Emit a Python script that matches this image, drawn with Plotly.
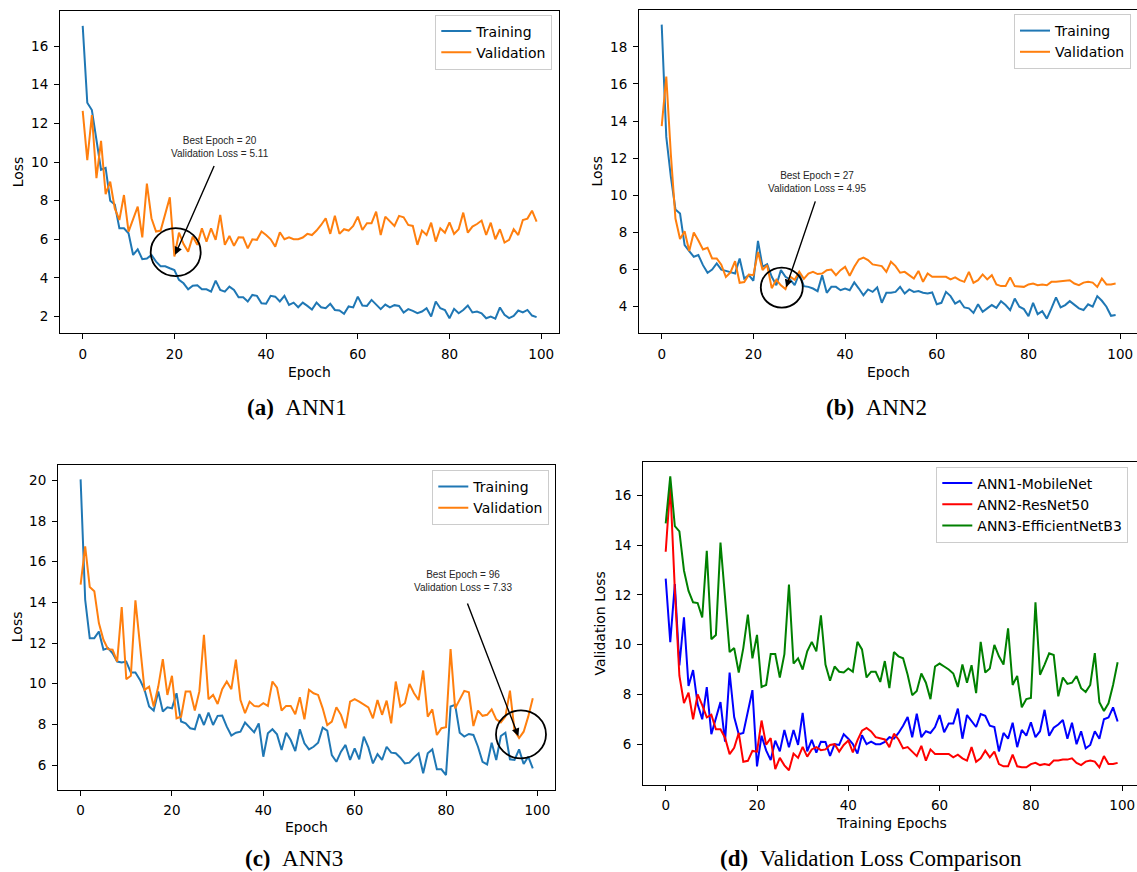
import plotly.graph_objects as go

# ---------------- data ----------------
epochs = list(range(100))

ann1_train = [17.05, 13.07, 12.69, 11.2, 9.6, 9.7, 8.0, 7.8, 6.57, 6.57,
              6.31, 5.19, 5.48, 4.97, 5.0, 5.19, 4.84, 4.6, 4.6, 4.5,
              4.41, 3.9, 3.72, 3.41, 3.59, 3.62, 3.41, 3.41, 3.29, 3.86,
              3.38, 3.29, 3.55, 3.38, 3.0, 3.0, 2.78, 3.12, 3.07, 2.69,
              2.66, 3.07, 3.03, 2.78, 3.07, 2.6, 2.72, 2.48, 2.72, 2.55,
              2.36, 2.72, 2.48, 2.43, 2.66, 2.34, 2.31, 2.14, 2.52, 2.47,
              3.03, 2.57, 2.55, 2.86, 2.6, 2.38, 2.62, 2.47, 2.59, 2.55,
              2.21, 2.38, 2.29, 2.17, 2.26, 2.43, 2.0, 2.78, 2.43, 2.34,
              1.91, 2.4, 2.17, 2.34, 2.57, 2.21, 2.26, 2.17, 1.91, 2.0,
              1.89, 2.47, 2.09, 1.92, 2.03, 2.31, 2.21, 2.34, 2.05, 1.97]

ann1_val = [12.65, 10.1, 12.43, 9.16, 11.1, 8.34, 8.98, 7.6, 7.0, 8.29,
            6.4, 7.0, 7.69, 6.1, 8.88, 7.09, 6.4, 6.45, 7.34, 8.17,
            5.11, 6.34, 5.75, 5.36, 6.14, 5.71, 6.57, 5.88, 6.57, 5.97,
            7.26, 5.71, 6.17, 5.66, 6.1, 6.09, 5.53, 6.0, 5.97, 6.4,
            6.22, 6.0, 5.62, 6.36, 6.0, 6.1, 6.0, 6.0, 6.09, 6.28,
            6.22, 6.45, 6.74, 7.09, 6.28, 7.22, 6.28, 6.52, 6.45, 6.69,
            7.17, 6.48, 6.83, 6.83, 7.43, 6.22, 7.17, 6.91, 6.69, 7.21,
            7.14, 6.74, 6.69, 5.71, 6.45, 6.22, 6.86, 5.88, 6.57, 6.34,
            6.88, 6.28, 6.52, 7.38, 6.34, 6.66, 6.79, 6.97, 6.22, 6.86,
            6.0, 6.52, 5.83, 5.97, 6.52, 6.22, 7.0, 7.07, 7.48, 6.91]

ann2_train = [19.2, 13.15, 11.0, 9.24, 9.02, 7.32, 7.0, 6.69, 6.78, 6.24,
              5.83, 6.0, 6.33, 6.0, 5.93, 5.88, 5.79, 6.6, 5.52, 5.7,
              5.4, 7.55, 6.15, 6.29, 5.61, 5.16, 5.97, 5.61, 5.47, 5.16,
              5.79, 5.11, 5.07, 4.98, 4.84, 5.7, 4.75, 5.07, 5.07, 4.89,
              4.98, 4.89, 5.31, 4.98, 4.62, 4.93, 4.8, 5.04, 4.21, 4.75,
              4.75, 4.8, 5.07, 4.71, 4.93, 4.8, 4.84, 4.75, 4.71, 4.77,
              4.13, 4.21, 4.8, 4.57, 4.17, 4.32, 3.96, 3.91, 3.67, 4.13,
              3.73, 3.91, 4.09, 3.94, 4.3, 4.09, 3.82, 4.44, 4.0, 3.87,
              3.49, 4.21, 3.6, 3.76, 3.36, 3.91, 4.5, 3.96, 4.09, 4.3,
              4.09, 3.91, 3.82, 4.13, 4.0, 4.57, 4.32, 4.0, 3.51, 3.55]

ann2_val = [13.73, 16.4, 12.2, 8.75, 7.65, 8.07, 7.0, 8.0, 7.57, 7.08,
            7.18, 6.6, 6.6, 6.26, 5.6, 5.85, 6.45, 5.29, 5.33, 5.73,
            5.7, 6.95, 5.98, 6.24, 5.0, 5.45, 5.15, 4.95, 5.62, 5.45,
            5.89, 5.5, 5.79, 5.88, 5.76, 5.79, 5.97, 6.0, 5.7, 5.97,
            6.15, 5.67, 6.15, 6.54, 6.65, 6.51, 6.28, 6.24, 6.19, 5.88,
            6.42, 6.19, 5.83, 5.88, 5.7, 5.52, 5.93, 5.34, 5.79, 5.61,
            5.61, 5.61, 5.61, 5.47, 5.58, 5.43, 5.34, 5.88, 5.29, 5.43,
            5.74, 5.47, 5.7, 5.2, 5.11, 5.11, 5.58, 5.11, 5.07, 5.07,
            5.2, 5.25, 5.16, 5.2, 5.16, 5.34, 5.34, 5.38, 5.38, 5.43,
            5.25, 5.16, 5.3, 5.34, 5.3, 5.07, 5.52, 5.2, 5.2, 5.25]

ann3_train = [20.05, 14.13, 12.24, 12.24, 12.57, 11.67, 11.75, 11.5, 11.09, 11.04,
              11.09, 10.55, 10.55, 10.19, 9.7, 8.88, 8.68, 9.62, 8.63, 8.84,
              8.79, 9.53, 8.14, 8.05, 7.81, 7.76, 8.51, 7.97, 8.58, 7.97,
              8.42, 8.43, 7.89, 7.45, 7.59, 7.64, 8.09, 7.84, 7.61, 8.05,
              6.41, 7.56, 7.76, 7.51, 6.74, 7.59, 7.23, 6.69, 7.76, 7.07,
              6.77, 6.9, 7.1, 7.84, 7.69, 6.49, 6.16, 6.66, 6.99, 6.25,
              6.82, 6.28, 7.4, 6.87, 6.08, 6.54, 6.25, 6.9, 6.61, 6.58,
              6.36, 6.08, 6.12, 6.38, 6.58, 5.6, 6.58, 6.77, 5.79, 5.79,
              5.51, 8.88, 8.96, 7.59, 7.4, 7.53, 7.48, 6.9, 6.16, 6.03,
              7.1, 6.25, 7.43, 7.59, 6.28, 6.25, 6.77, 6.05, 6.41, 5.84]

ann3_val = [14.87, 16.76, 14.76, 14.55, 12.98, 12.16, 11.7, 11.67, 11.09, 13.77,
            10.22, 10.39, 14.1, 11.83, 9.7, 9.86, 8.88, 9.86, 11.21, 9.45,
            10.39, 8.3, 8.38, 9.62, 9.62, 8.68, 9.62, 12.41, 9.24, 9.45,
            9.0, 9.73, 10.11, 9.73, 11.18, 9.2, 8.55, 9.12, 8.91, 8.88,
            9.04, 8.91, 10.11, 9.81, 8.68, 8.91, 8.91, 8.5, 9.34, 8.25,
            9.7, 9.53, 9.45, 8.79, 7.97, 8.14, 8.84, 8.47, 7.81, 9.12,
            9.24, 9.12, 9.0, 8.84, 8.3, 9.2, 8.47, 9.17, 8.05, 10.11,
            8.88, 9.04, 9.99, 9.53, 9.2, 10.65, 8.38, 8.74, 7.48, 7.81,
            7.86, 11.7, 8.79, 9.2, 9.65, 9.58, 7.92, 8.68, 8.42, 8.47,
            8.74, 8.25, 8.1, 8.38, 9.66, 7.69, 7.33, 7.64, 8.38, 9.29]

series_names = ["Training", "Validation"]
cmp_names = ["ANN1-MobileNet", "ANN2-ResNet50", "ANN3-EfficientNetB3"]
captions = [("(a)", "ANN1"), ("(b)", "ANN2"), ("(c)", "ANN3"), ("(d)", "Validation Loss Comparison")]

# ---------------- style ----------------
TRAIN_C = "#1f77b4"
VAL_C = "#ff7f0e"
CMP_C = ["#0000ff", "#ff0000", "#008000"]
W, H = 1137, 872
SANS = "DejaVu Sans"


def fx(p):
    return p / W


def fy(p):
    return 1 - p / H


def pad_range(*series):
    lo = min(min(s) for s in series)
    hi = max(max(s) for s in series)
    d = 0.05 * (hi - lo)
    return [lo - d, hi + d]


xpad = 0.05 * (max(epochs) - min(epochs))
xr_full = [min(epochs) - xpad, max(epochs) + xpad]

common = dict(showline=True, linecolor="black", linewidth=1, ticks="outside", ticklen=5,
              tickwidth=1, tickcolor="black", showgrid=False, zeroline=False,
              tickfont=dict(family=SANS, size=13.5, color="black"), automargin=False,
              ticklabelstandoff=3)

fig = go.Figure()

# panels a-c
train_sets = [ann1_train, ann2_train, ann3_train]
val_sets = [ann1_val, ann2_val, ann3_val]
suffix = ["", "2", "3"]
legend_ids = ["legend", "legend2", "legend3"]
for i in range(3):
    for name, ys, col in zip(series_names, [train_sets[i], val_sets[i]], [TRAIN_C, VAL_C]):
        fig.add_trace(go.Scatter(x=epochs, y=ys, mode="lines", name=name,
                                 line=dict(color=col, width=2),
                                 xaxis="x" + suffix[i], yaxis="y" + suffix[i],
                                 legend=legend_ids[i]))

# panel d
for name, ys, col in zip(cmp_names, val_sets, CMP_C):
    fig.add_trace(go.Scatter(x=epochs, y=ys, mode="lines", name=name,
                             line=dict(color=col, width=2),
                             xaxis="x4", yaxis="y4", legend="legend4"))

# geometry (pixels): left, right, top, bottom
geo = {
    "a": (60.0, 559.3, 11.2, 333.3),
    "b": (639.0, 1137.0, 9.9, 333.3),
    "c": (58.0, 555.4, 464.6, 789.8),
    "d": (643.1, 1137.0, 461.7, 785.0),
}

layout = dict(width=W, height=H, margin=dict(l=0, r=0, t=0, b=0),
              plot_bgcolor="white", paper_bgcolor="white", showlegend=True)

# x ranges: b and d are clipped on the right by the image edge
xr_b = [xr_full[0], xr_full[0] + (1137 - 639.0) / 4.585]
xr_d = [xr_full[0], xr_full[0] + (1137 - 643.1) / 4.565]

def mkx(g, rng, anchor):
    return dict(domain=[fx(g[0]), fx(g[1])], range=rng, anchor=anchor,
                tick0=0, dtick=20, mirror=True, **common)

def mky(g, rng, anchor, mirror):
    return dict(domain=[fy(g[3]), fy(g[2])], range=rng, anchor=anchor,
                tick0=0, dtick=2, mirror=mirror, **common)

layout["xaxis"] = mkx(geo["a"], xr_full, "y")
layout["yaxis"] = mky(geo["a"], pad_range(ann1_train, ann1_val), "x", True)
layout["xaxis2"] = mkx(geo["b"], xr_b, "y2")
layout["yaxis2"] = mky(geo["b"], pad_range(ann2_train, ann2_val), "x2", False)
layout["xaxis3"] = mkx(geo["c"], xr_full, "y3")
layout["yaxis3"] = mky(geo["c"], pad_range(ann3_train, ann3_val), "x3", True)
layout["xaxis4"] = mkx(geo["d"], xr_d, "y4")
layout["yaxis4"] = mky(geo["d"], pad_range(*val_sets), "x4", False)

leg_common = dict(xanchor="right", yanchor="top", bgcolor="rgba(255,255,255,0.8)",
                  bordercolor="#cccccc", borderwidth=1,
                  font=dict(family=SANS, size=14, color="black"))
layout["legend"] = dict(x=fx(552.3), y=fy(14.5), **leg_common)
layout["legend2"] = dict(x=fx(1131.0), y=fy(14.0), **leg_common)
layout["legend3"] = dict(x=fx(549.3), y=fy(470.0), **leg_common)
layout["legend4"] = dict(x=fx(1128.3), y=fy(466.5), **leg_common)

annotations = []
shapes = []

# axis titles
title_font = dict(family=SANS, size=14, color="black")
axis_titles = [
    ("Epoch", 309.7, 371.5, 0), ("Loss", 18.0, 172.3, -90),
    ("Epoch", 888.5, 371.5, 0), ("Loss", 597.0, 171.6, -90),
    ("Epoch", 306.7, 827.0, 0), ("Loss", 17.0, 627.2, -90),
    ("Training Epochs", 891.7, 822.5, 0), ("Validation Loss", 600.0, 623.4, -90),
]
for txt, px, py, ang in axis_titles:
    annotations.append(dict(text=txt, x=fx(px), y=fy(py), xref="paper", yref="paper",
                            showarrow=False, xanchor="center", yanchor="middle",
                            textangle=ang, font=title_font))

# captions
cap_pos = [(297, 407), (876, 407), (294, 858), (871, 858)]
for (lab, txt), (px, py) in zip(captions, cap_pos):
    annotations.append(dict(text="<b>" + lab + "</b>\u00a0\u00a0" + txt, x=fx(px), y=fy(py),
                            xref="paper", yref="paper", showarrow=False,
                            xanchor="center", yanchor="middle",
                            font=dict(family="Liberation Serif", size=23, color="black")))

# best-epoch callouts: (axis suffix, arrow tail offset, text offset, circle box)
callouts = [
    ("", (40.6, -92.5), (45.6, 109.0), (-23.7, 26.3, -19.7, 28.3)),
    ("2", (30.5, -89.7), (31.2, 107.2), (-24.7, 17.3, -18.5, 21.5)),
    ("3", (-52.4, -136.4), (-56.4, 157.4), (-23.1, 26.9, -20.4, 27.6)),
]
for vals, (sfx, tail, toff, box) in zip(val_sets, callouts):
    be = min(range(len(vals)), key=lambda k: vals[k])
    bv = vals[be]
    xr, yr = "x" + sfx, "y" + sfx
    annotations.append(dict(x=be, y=bv, xref=xr, yref=yr, text=" ", showarrow=True,
                            ax=tail[0], ay=tail[1], arrowhead=2, arrowsize=1.1,
                            arrowwidth=1.4, arrowcolor="black", standoff=2,
                            font=dict(size=1)))
    annotations.append(dict(x=be, y=bv, xref=xr, yref=yr, showarrow=False,
                            text="Best Epoch = %d<br>Validation Loss = %.2f" % (be, bv),
                            xshift=toff[0], yshift=toff[1], align="center",
                            font=dict(family="Liberation Sans", size=10, color="#262626")))
    shapes.append(dict(type="circle", xref=xr, yref=yr, xsizemode="pixel", ysizemode="pixel",
                       xanchor=be, yanchor=bv, x0=box[0], x1=box[1], y0=box[2], y1=box[3],
                       line=dict(color="black", width=1.8)))

layout["annotations"] = annotations
layout["shapes"] = shapes
fig.update_layout(**layout)

fig.write_html("out.html")
